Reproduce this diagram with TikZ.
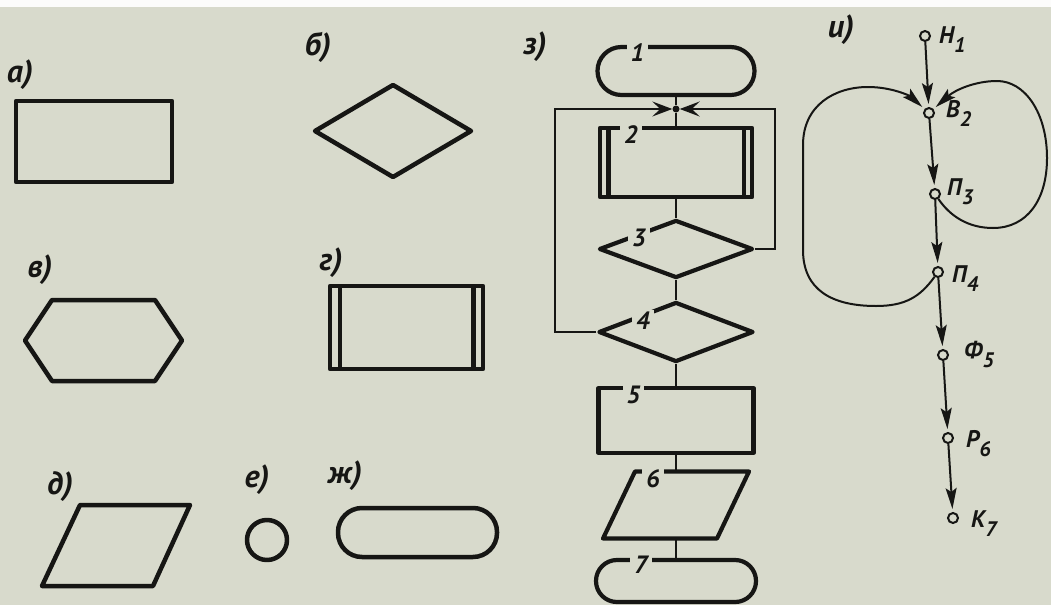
\documentclass[tikz,border=0pt]{standalone}
\usepackage{fontspec}
\setmainfont{PT Sans}
\usetikzlibrary{arrows.meta,calc,shapes.geometric}
\definecolor{paper}{RGB}{216,218,204}
\definecolor{ink}{RGB}{22,22,20}
\newcommand\gsub[1]{\raisebox{-9pt}{\fontsize{21}{21}\selectfont #1}}
\begin{document}
\begin{tikzpicture}[x=1pt,y=-1pt,
  shp/.style={draw=ink, line width=4.5pt, line join=round},
  blk/.style={draw=ink, line width=4.2pt, inner sep=0pt, line join=round},
  conn/.style={draw=ink, line width=2.2pt},
  jarrow/.style={conn, -{Stealth[length=20pt,width=15pt,inset=8pt]}},
  num/.style={font=\fontsize{25}{25}\selectfont\bfseries\itshape, text=ink, fill=paper, inner xsep=4pt, inner ysep=2.5pt},
  cat/.style={font=\fontsize{32}{34}\selectfont\bfseries\itshape, text=ink, inner sep=0pt},
  gnode/.style={circle, draw=ink, fill=paper, line width=2pt, minimum size=10pt, inner sep=0pt},
  gedge/.style={draw=ink, line width=2pt, -{Stealth[length=21pt,width=11pt,inset=4pt]}, shorten >=3pt},
  glbl/.style={font=\fontsize{24}{24}\selectfont\bfseries\itshape, text=ink, inner sep=0pt, anchor=base west}
]
\useasboundingbox (0,0) rectangle (1051,605);
\fill[paper] (0,0) rectangle (1051,605);
\fill[white!92!paper] (0,0) rectangle (1051,7);

% --- category labels
\node[cat] (la) at (20,75) {а)};
\node[cat] (lb) at (318,47) {б)};
\node[cat] (lv) at (40,270) {в)};
\node[cat] (lg) at (331,263) {г)};
\node[cat] (ld) at (60,487) {д)};
\node[cat] (le) at (257,480) {е)};
\node[cat] (lzh) at (345,476) {ж)};
\node[cat] (lz) at (535,47) {з)};
\node[cat] (li) at (841,30) {и)};

% --- standalone symbols
\draw[shp] (16,101) rectangle (172,182);
\draw[shp] (315,131) -- (393,85) -- (471,131) -- (393,177) -- cycle;
\draw[shp] (25,340.5) -- (52,300) -- (155,300) -- (182,340.5) -- (155,381) -- (52,381) -- cycle;
\draw[shp] (330,286) rectangle (483,369);
\draw[shp] (340,286) -- (340,369);
\draw[shp] (473.5,286) -- (473.5,369);
\draw[shp] (80,505) -- (190,505) -- (153,586) -- (42,586) -- cycle;
\draw[shp] (267,540) circle[radius=20];
\draw[shp, rounded corners=24pt] (338,508) rectangle (497,557);

% --- flowchart
\node[blk, rounded corners=23.9pt, minimum width=157pt, minimum height=48pt] (b1) at (676,71) {};
\node[circle, fill=ink, inner sep=0pt, minimum size=7pt] (j) at (676,109) {};
\node[blk, minimum width=152pt, minimum height=69pt] (b2) at (676,162.5) {};
\draw[blk] ($(b2.north west)+(10.5,2.1)$) -- ($(b2.south west)+(10.5,-2.1)$);
\draw[blk] ($(b2.north east)+(-10,2.1)$) -- ($(b2.south east)+(-10,-2.1)$);
\node[blk, diamond, minimum width=154pt, minimum height=58pt] (d3) at (676,249) {};
\node[blk, diamond, minimum width=155pt, minimum height=60pt] (d4) at (676,332) {};
\node[blk, minimum width=155pt, minimum height=65pt] (b5) at (676,420.5) {};
\node[minimum width=146pt, minimum height=67pt, inner sep=0pt, outer sep=0pt] (b6) at (676,505) {};
\draw[blk] ($(b6.north west)+(32,0)$) -- (b6.north east) -- ($(b6.south east)-(32,0)$) -- (b6.south west) -- cycle;
\node[blk, rounded corners=20.9pt, minimum width=160pt, minimum height=42pt] (b7) at (676,581) {};

\coordinate (xl) at (555,0);
\coordinate (xr) at (775,0);
\draw[conn] (b1) -- (j) -- (b2);
\draw[conn] (b2) -- (d3);
\draw[conn] (d3) -- (d4);
\draw[conn] (d4) -- (b5);
\draw[conn] (b5) -- (b6);
\draw[conn] (b6) -- (b7);
\draw[jarrow] (d4.west) -- (xl |- d4.west) |- (j);
\draw[jarrow] (d3.east) -- (xr |- d3.east) |- (j);

\node[num] (n1) at ($(b1.north west)+(42,8)$) {1};
\node[num] (n2) at ($(b2.north west)+(33,9)$) {2};
\node[num] (n3) at ($(d3)+(-37,-11)$) {3};
\node[num] (n4) at ($(d4)+(-33,-11)$) {4};
\node[num] (n5) at ($(b5.north west)+(37,9)$) {5};
\node[num] (n6) at ($(b6.north west)+(50,7)$) {6};
\node[num] (n7) at ($(b7.north west)+(47,7)$) {7};

% --- graph
\node[gnode] (h1) at (925,36) {};
\node[gnode] (v2) at (929,113) {};
\node[gnode] (p3) at (935,194) {};
\node[gnode] (p4) at (938,272) {};
\node[gnode] (f5) at (943,355) {};
\node[gnode] (r6) at (948,438) {};
\node[gnode] (k7) at (953,518) {};
\draw[gedge] (h1) -- (v2);
\draw[gedge] (v2) -- (p3);
\draw[gedge] (p3) -- (p4);
\draw[gedge] (p4) -- (f5);
\draw[gedge] (f5) -- (r6);
\draw[gedge] (r6) -- (k7);
\draw[gedge] (p4) .. controls (920,297) and (905,306) .. (876,306)
  .. controls (832,306) and (803,290) .. (803,250) -- (803,145)
  .. controls (803,105) and (835,87) .. (868,87)
  .. controls (892,87) and (910,96) .. (v2);
\draw[gedge] (p3) .. controls (950,216) and (968,228) .. (993,228)
  .. controls (1027,228) and (1047,200) .. (1047,158)
  .. controls (1047,113) and (1025,81) .. (997,81)
  .. controls (975,81) and (955,90) .. (v2);

\node[glbl] (lh1) at ($(h1)+(14,7)$) {Н\gsub{1}};
\node[glbl] (lv2) at ($(v2)+(17,4)$) {В\gsub{2}};
\node[glbl] (lp3) at ($(p3)+(12,1)$) {П\gsub{3}};
\node[glbl] (lp4) at ($(p4)+(14,10)$) {П\gsub{4}};
\node[glbl] (lf5) at ($(f5)+(21,3)$) {Ф\gsub{5}};
\node[glbl] (lr6) at ($(r6)+(18,9)$) {Р\gsub{6}};
\node[glbl] (lk7) at ($(k7)+(18,9)$) {К\gsub{7}};
\end{tikzpicture}
\end{document}
